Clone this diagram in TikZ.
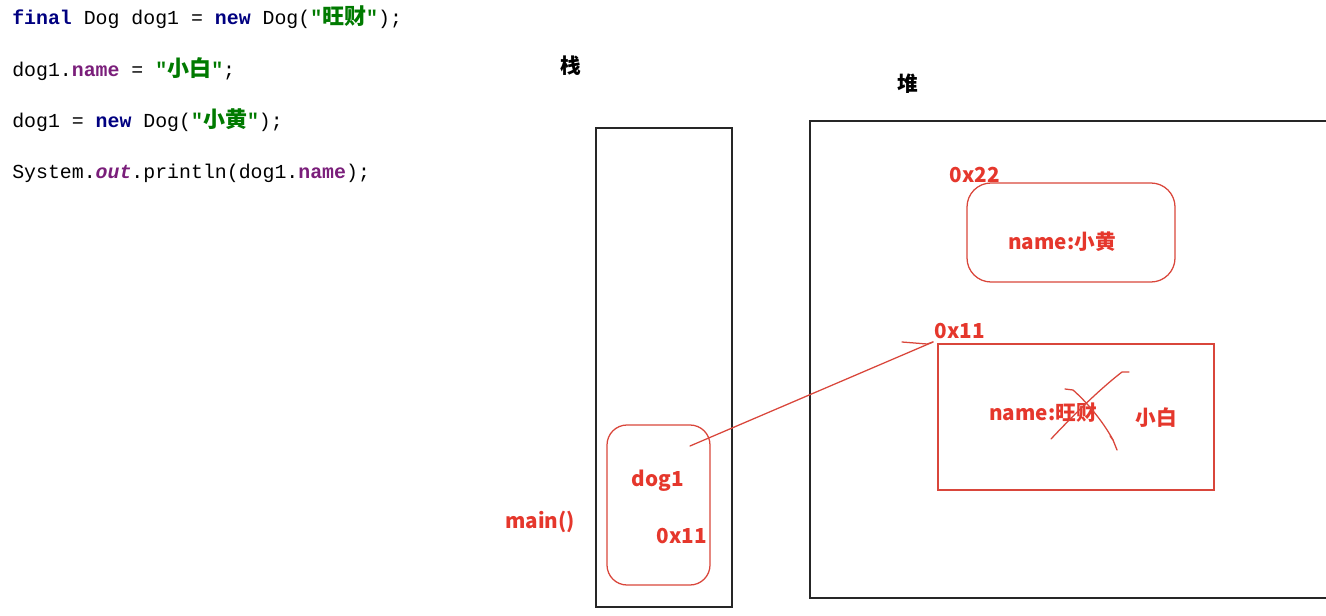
\documentclass[tikz,border=0pt]{standalone}
\usepackage{fontspec}
\setmonofont{Liberation Mono}
\newfontfamily\cjk{Noto Sans CJK SC}
\definecolor{kw}{HTML}{000080}
\definecolor{fld}{HTML}{7A1E7A}
\definecolor{str}{HTML}{007A00}
\definecolor{redtxt}{HTML}{E5372C}
\definecolor{redln}{HTML}{D9463B}
\tikzset{
  codeline/.style={anchor=base west, inner sep=0pt, font=\ttfamily\fontsize{14.9}{17}\selectfont},
  title/.style={inner sep=0pt, font=\cjk\bfseries\fontsize{15.5}{18}\selectfont, text=black},
  redlabel/.style={inner sep=0pt, font=\cjk\bfseries\fontsize{15.5}{18}\selectfont, text=redtxt},
  blackbox/.style={draw=black!85, line width=1.3pt, inner sep=0pt, outer sep=0pt},
  redbox/.style={draw=redln, line width=0.95pt, inner sep=0pt, outer sep=0pt},
  redstroke/.style={draw=redln, line width=0.95pt, line cap=round, line join=round}
}
\newcommand{\kwd}[1]{\textcolor{kw}{\bfseries #1}}
\newcommand{\fldn}[1]{\textcolor{fld}{\bfseries #1}}
\newcommand{\strg}[1]{\textcolor{str}{\bfseries"{\cjk\fontsize{16.5}{17}\selectfont #1}"}}
\begin{document}
\begin{tikzpicture}[x=0.75pt,y=-0.75pt]
\useasboundingbox (0,0) rectangle (1326,616);
% code
\node[codeline] (c1) at (12,25) {\kwd{final} Dog dog1 = \kwd{new} Dog(\strg{旺财});};
\node[codeline] (c2) at (12,77) {dog1.\fldn{name} = \strg{小白};};
\node[codeline] (c3) at (12,128) {dog1 = \kwd{new} Dog(\strg{小黄});};
\node[codeline] (c4) at (12,179) {System.\textcolor{fld}{\bfseries\itshape out}.println(dog1.\fldn{name});};
% titles
\node[title] (stk) at (571,66) {栈};
\node[title] (hp) at (908,84) {堆};
% stack
\node[blackbox, minimum width=102pt, minimum height=359.25pt] (stack) at (664,367.5) {};
% heap (right edge outside picture)
\coordinate (htr) at (1326,121);
\coordinate (hbr) at (1326,598);
\node[inner sep=0pt] (heaplbl) at (810,121) {};
\draw[black!85, line width=1.3pt] (htr) -- (810,121) -- (810,598) -- (hbr);
% dog1 frame
\node[redbox, rounded corners=15pt, minimum width=77.25pt, minimum height=120pt] (frame) at (658.5,505) {};
\node[redlabel] (dogl) at (658,481) {dog1};
\node[redlabel] (addr1) at (682,536) {0x11};
\node[redlabel] (mainl) at (540,522) {main()};
% object 0x22
\node[redbox, rounded corners=18pt, minimum width=156pt, minimum height=74.25pt] (obj22) at (1071,232.5) {};
\node[redlabel] (a22) at (975,175) {0x22};
\node[redlabel] (n22) at (1062,242) {name:小黄};
% object 0x11
\node[redbox, minimum width=207pt, minimum height=109.5pt] (obj11) at (1076,417) {};
\node[redlabel] (a11) at (960,331) {0x11};
\node[redlabel] (n11) at (1043,413) {name:旺财};
\node[redlabel] (bai) at (1156,418) {小白};
% reference arrow
\coordinate (ref) at (690,446);
\coordinate (tip) at ([shift={(-5,-2)}]obj11.north west);
\draw[redstroke] (ref) -- (tip);
\draw[redstroke] (902,342) -- (927,344) -- (tip);
% cross-out strokes
\draw[redstroke] (1051,439) .. controls (1080,408) and (1105,385) .. (1122,372) -- (1129,372);
\draw[redstroke] (1065,389) -- (1073,390) .. controls (1090,405) and (1105,425) .. (1113,440) -- (1117,450);
\draw[redstroke] (1113,440) -- (1110,436);
\end{tikzpicture}
\end{document}
